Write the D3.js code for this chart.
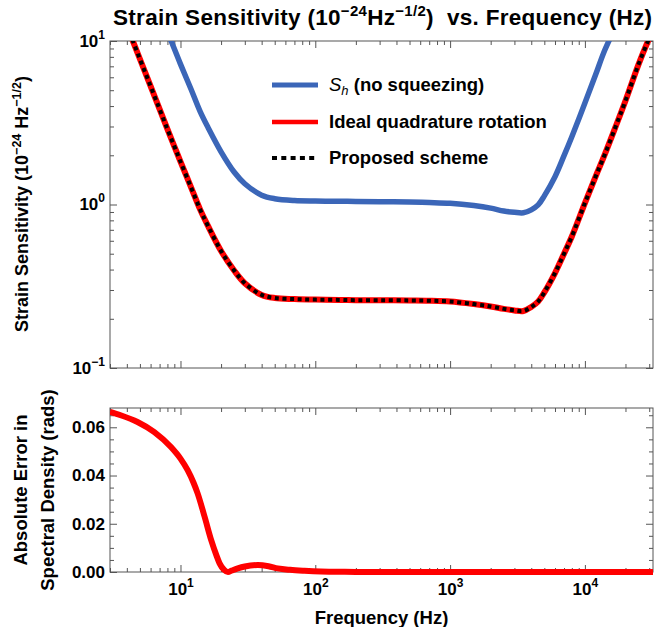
<!DOCTYPE html>
<html>
<head>
<meta charset="utf-8">
<title>Strain Sensitivity</title>
<script src="https://cdn.jsdelivr.net/npm/d3@7"></script>
<style>
body { margin: 0; background: #fff; }
svg { font-family: "Liberation Sans", Arial, sans-serif; font-weight: bold; }
.tick text { fill: #000; }
</style>
</head>
<body>
<script>

// frequencies (Hz) the sensitivity curves were read at
var sensFreq = [3, 4, 5, 6, 7, 8, 9, 10, 12, 14, 16, 20, 25, 30, 40, 50, 70, 100, 150, 200,
                300, 500, 700, 1000, 1500, 2000, 2500, 3000, 3500, 4000, 4500, 5000, 6000,
                7000, 8000, 10000, 12000, 14000, 17000, 20000, 25000, 30000, 32000];
// S_h, no squeezing (blue)
var shSens = [85, 47, 30, 20.6, 15, 11.4, 8.96, 7.22, 5.05, 3.7, 2.96, 2.1, 1.58, 1.34, 1.14, 1.085, 1.058, 1.05, 1.046, 1.044,
              1.04, 1.035, 1.028, 1.017, 0.985, 0.95, 0.912, 0.896, 0.89, 0.928, 0.995, 1.13, 1.48,
              1.99, 2.6, 4.17, 6.21, 8.74, 12.4, 17, 27, 39, 44];
// ideal quadrature rotation (red)
var idealSens = [22.7, 12.4, 7.76, 5.29, 3.83, 2.89, 2.27, 1.83, 1.27, 0.93, 0.74, 0.52, 0.395, 0.33, 0.28, 0.268, 0.264, 0.262, 0.261, 0.26,
                 0.26, 0.259, 0.258, 0.255, 0.246, 0.238, 0.23, 0.225, 0.223, 0.236, 0.255, 0.29, 0.381,
                 0.5, 0.637, 1.02, 1.48, 2.01, 3.03, 4.31, 7.2, 10.4, 11.7];
// proposed scheme (black dotted) - lies right on top of the red curve
var proposedSens = [22.7, 12.4, 7.76, 5.29, 3.83, 2.89, 2.27, 1.83, 1.27, 0.93, 0.74, 0.52, 0.395, 0.33, 0.28, 0.268, 0.264, 0.262, 0.261, 0.26,
                    0.26, 0.259, 0.258, 0.255, 0.246, 0.238, 0.23, 0.225, 0.223, 0.236, 0.255, 0.29, 0.381,
                    0.5, 0.637, 1.02, 1.48, 2.01, 3.03, 4.31, 7.2, 10.4, 11.7];

// lower panel: absolute error (rads)
var errFreq = [3, 3.6, 4.8, 6.4, 8.5, 10, 11.3, 12.5, 13.4, 15.1, 16.9, 18.5, 19.5, 21, 22.5, 24,
               26.6, 30, 37.5, 45, 52.7, 65, 83, 110, 150, 200, 500, 1000, 32000];
var errVals = [0.0664, 0.065, 0.0622, 0.058, 0.0518, 0.047, 0.0422, 0.037, 0.0326, 0.0229, 0.0132, 0.0068, 0.0036, 0.001, 0.0, 0.0006,
               0.0015, 0.0023, 0.0029, 0.0024, 0.0015, 0.0009, 0.0005, 0.0002, 0.0001, 0, 0, 0, 0];

var sensTicks = [0.1, 1, 10];
var sensTickExp = ["\u22121", "0", "1"];
var freqTicks = [10, 100, 1000, 10000];
var freqTickExp = ["1", "2", "3", "4"];
var errTicks = [0, 0.02, 0.04, 0.06];
var errTickLabels = ["0.00", "0.02", "0.04", "0.06"];

var legendNames = ["(no squeezing)", "Ideal quadrature rotation", "Proposed scheme"];

var w = 657, h = 627;
var frameColor = "#555";
var blue = "#3b66b8";

var svg = d3.select("body").append("svg")
    .attr("width", w)
    .attr("height", h);

var x = d3.scaleLog().domain([3, 32000]).range([110, 653]);
var yTop = d3.scaleLog().domain([0.1, 10]).range([368, 41]);
var yBot = d3.scaleLinear().domain([0, 0.068]).range([572, 408]);

var xMinor = x.ticks().filter(function(d) { return freqTicks.indexOf(d) < 0; });
var yTopMinor = yTop.ticks().filter(function(d) { return sensTicks.indexOf(d) < 0; });
var yBotMinor = d3.range(0, 0.068, 0.005).filter(function(d, i) { return i % 4 != 0; });

function supLabels(g, exps) {
    g.selectAll(".tick text").each(function(d, i) {
        var t = d3.select(this).text(null);
        t.append("tspan").text("10");
        t.append("tspan").attr("dy", -8).attr("font-size", "12px").text(exps[i]);
    });
}

function cleanAxis(g) {
    g.select(".domain").remove();
    g.selectAll(".tick line").attr("stroke", frameColor);
    g.attr("font-family", null).attr("font-size", "17px");
}

// draws the frame of one panel with inward ticks on all four sides
function panel(y, yMaj, yMin, yLabels, showX) {
    var x0 = x.range()[0], x1 = x.range()[1];
    var y0 = y.range()[1], y1 = y.range()[0];

    // minor ticks
    svg.append("g").attr("transform", "translate(" + x0 + ",0)")
        .call(d3.axisLeft(y).tickValues(yMin).tickSize(-4).tickFormat("")).call(cleanAxis);
    svg.append("g").attr("transform", "translate(" + x1 + ",0)")
        .call(d3.axisRight(y).tickValues(yMin).tickSize(-4).tickFormat("")).call(cleanAxis);
    svg.append("g").attr("transform", "translate(0," + y1 + ")")
        .call(d3.axisBottom(x).tickValues(xMinor).tickSize(-4).tickFormat("")).call(cleanAxis);
    svg.append("g").attr("transform", "translate(0," + y0 + ")")
        .call(d3.axisTop(x).tickValues(xMinor).tickSize(-4).tickFormat("")).call(cleanAxis);

    // major ticks
    var left = svg.append("g").attr("transform", "translate(" + x0 + ",0)")
        .call(d3.axisLeft(y).tickValues(yMaj).tickSize(-7).tickPadding(5)
            .tickFormat(function(d, i) { return yLabels ? yLabels[i] : ""; }))
        .call(cleanAxis);
    svg.append("g").attr("transform", "translate(" + x1 + ",0)")
        .call(d3.axisRight(y).tickValues(yMaj).tickSize(-7).tickFormat("")).call(cleanAxis);
    var bottom = svg.append("g").attr("transform", "translate(0," + y1 + ")")
        .call(d3.axisBottom(x).tickValues(freqTicks).tickSize(-7).tickPadding(11).tickFormat(""))
        .call(cleanAxis);
    svg.append("g").attr("transform", "translate(0," + y0 + ")")
        .call(d3.axisTop(x).tickValues(freqTicks).tickSize(-7).tickFormat("")).call(cleanAxis);
    if (showX) supLabels(bottom, freqTickExp);

    svg.append("rect")
        .attr("x", x0).attr("y", y0)
        .attr("width", x1 - x0).attr("height", y1 - y0)
        .attr("fill", "none").attr("stroke", frameColor).attr("stroke-width", 1);
    return left;
}

var topLeft = panel(yTop, sensTicks, yTopMinor, null, false);
supLabels(topLeft, sensTickExp);
panel(yBot, errTicks, yBotMinor, errTickLabels, true);

// clipping
var defs = svg.append("defs");
defs.append("clipPath").attr("id", "clipTop").append("rect")
    .attr("x", 110).attr("y", 41).attr("width", 543).attr("height", 327);
defs.append("clipPath").attr("id", "clipBot").append("rect")
    .attr("x", 110).attr("y", 404).attr("width", 543).attr("height", 171);

var sensLine = function(vals) {
    return d3.line()
        .x(function(d, i) { return x(sensFreq[i]); })
        .y(function(d) { return yTop(d); })
        .curve(d3.curveCatmullRom.alpha(0.5))(vals);
};

var curves = svg.append("g").attr("clip-path", "url(#clipTop)");
curves.append("path").attr("d", sensLine(shSens))
    .attr("fill", "none").attr("stroke", blue).attr("stroke-width", 5.5);
curves.append("path").attr("d", sensLine(idealSens))
    .attr("fill", "none").attr("stroke", "red").attr("stroke-width", 6);
curves.append("path").attr("d", sensLine(proposedSens))
    .attr("fill", "none").attr("stroke", "black").attr("stroke-width", 4)
    .attr("stroke-dasharray", "4,3.6");

var errLine = d3.line()
    .x(function(d, i) { return x(errFreq[i]); })
    .y(function(d) { return yBot(d); })
    .curve(d3.curveMonotoneX);

svg.append("g").attr("clip-path", "url(#clipBot)")
    .append("path").attr("d", errLine(errVals))
    .attr("fill", "none").attr("stroke", "red").attr("stroke-width", 6);

// legend
var legY = [85, 122, 158];
var legStyles = [
    { c: blue, wd: 5, dash: null },
    { c: "red", wd: 4.5, dash: null },
    { c: "black", wd: 4, dash: "5,4.3" }
];
legY.forEach(function(ly, i) {
    svg.append("line")
        .attr("x1", 272).attr("x2", 318).attr("y1", ly).attr("y2", ly)
        .attr("stroke", legStyles[i].c).attr("stroke-width", legStyles[i].wd)
        .attr("stroke-dasharray", legStyles[i].dash);
    var t = svg.append("text").attr("x", 329).attr("y", ly + 6).attr("font-size", "18.5px");
    if (i == 0) {
        t.append("tspan").attr("font-style", "italic").attr("font-weight", "normal").text("S");
        t.append("tspan").attr("font-style", "italic").attr("font-weight", "normal")
            .attr("font-size", "13px").attr("dy", 4).text("h");
        t.append("tspan").attr("dy", -4).text(" " + legendNames[i]);
    } else {
        t.text(legendNames[i]);
    }
});

// title
var title = svg.append("text").attr("x", 113).attr("y", 25)
    .attr("font-size", "22.5px").style("white-space", "pre")
    .attr("textLength", 539).attr("lengthAdjust", "spacing");
title.append("tspan").text("Strain Sensitivity (10");
title.append("tspan").attr("font-size", "15px").attr("dy", -9).text("\u221224");
title.append("tspan").attr("dy", 9).text("Hz");
title.append("tspan").attr("font-size", "15px").attr("dy", -9).text("\u22121/2");
title.append("tspan").attr("dy", 9).text(")  vs. Frequency (Hz)");

// axis titles
var yl = svg.append("text").attr("transform", "translate(27.5,204) rotate(-90)")
    .attr("text-anchor", "middle").attr("font-size", "18px");
yl.append("tspan").text("Strain Sensitivity (10");
yl.append("tspan").attr("font-size", "12.5px").attr("dy", -7).text("\u221224");
yl.append("tspan").attr("dy", 7).text(" Hz");
yl.append("tspan").attr("font-size", "12.5px").attr("dy", -7).text("\u22121/2");
yl.append("tspan").attr("dy", 7).text(")");

svg.append("text").attr("transform", "translate(27,490) rotate(-90)")
    .attr("text-anchor", "middle").attr("font-size", "18.5px").text("Absolute Error in");
svg.append("text").attr("transform", "translate(54,490) rotate(-90)")
    .attr("text-anchor", "middle").attr("font-size", "18.5px").text("Spectral Density (rads)");

svg.append("text").attr("x", 381.5).attr("y", 624)
    .attr("text-anchor", "middle").attr("font-size", "18.5px").text("Frequency (Hz)");

</script>
</body>
</html>
